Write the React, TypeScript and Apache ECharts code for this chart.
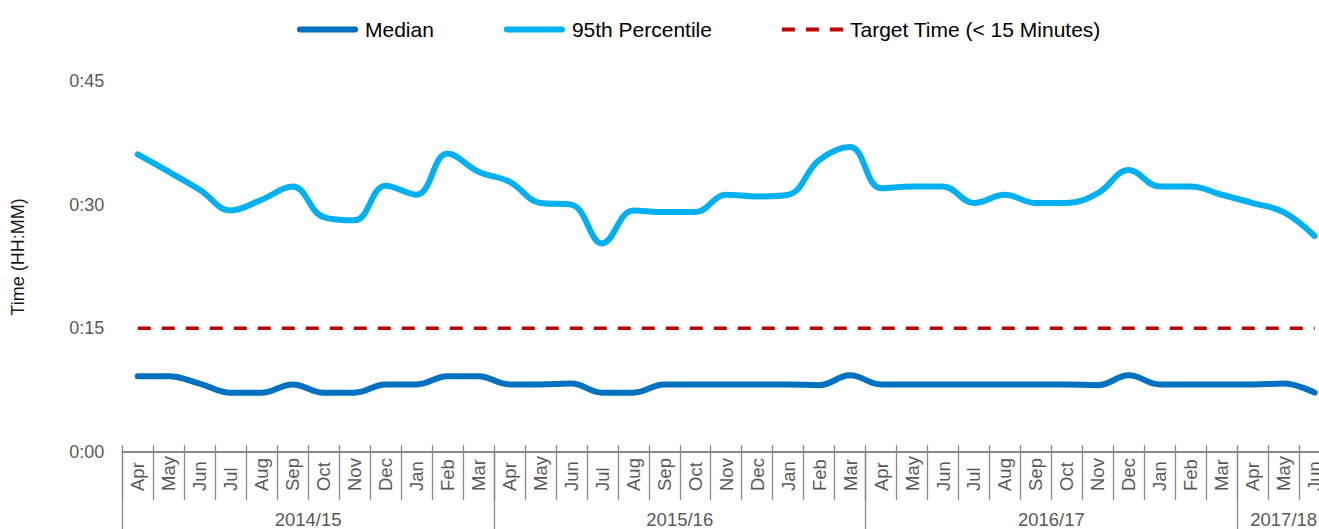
import { useEffect, useRef } from "react";
import * as echarts from "echarts";

const monthNames = ["Apr", "May", "Jun", "Jul", "Aug", "Sep", "Oct", "Nov", "Dec", "Jan", "Feb", "Mar"];
const fiscalYears = ["2014/15", "2015/16", "2016/17", "2017/18"];
const fiscalYearMonthCounts = [12, 12, 12, 3];

// minutes
const median = [
  9.2, 9.2, 8.3, 7.2, 7.2, 8.2, 7.2, 7.2, 8.2, 8.2, 9.2, 9.2,
  8.2, 8.2, 8.3, 7.2, 7.2, 8.2, 8.2, 8.2, 8.2, 8.2, 8.1, 9.3,
  8.2, 8.2, 8.2, 8.2, 8.2, 8.2, 8.2, 8.1, 9.3, 8.2, 8.2, 8.2,
  8.2, 8.3, 7.2,
];
const percentile95 = [
  36.1, 34.0, 31.8, 29.3, 30.6, 32.2, 28.5, 28.1, 32.3, 31.2, 36.2, 34.0,
  32.8, 30.2, 30.0, 25.3, 29.3, 29.1, 29.1, 31.2, 31.0, 31.2, 35.4, 37.0,
  32.0, 32.2, 32.2, 30.2, 31.2, 30.2, 30.2, 31.4, 34.2, 32.2, 32.2, 31.2,
  30.2, 29.1, 26.2,
];
const targetMinutes = 15;
const yTickMinutes = [0, 15, 30, 45];

const seriesNames = ["Median", "95th Percentile", "Target Time (< 15 Minutes)"];

const FONT = "'Liberation Sans', Arial, Helvetica, sans-serif";

const PILL_ICON = "path://M3,0H58A3,3 0 0 1 58,6H3A3,3 0 0 1 3,0Z";
const DASH_ICON = "path://M0,1H13V5H0Z M24,1H37V5H24Z M48,1H61V5H48Z M0,0H0.01V6H0Z";

export default function App() {
  const ref = useRef<HTMLDivElement>(null);

  useEffect(() => {
    if (!ref.current) return;
    const chart = echarts.init(ref.current, null, { renderer: "svg" });

    const categories: string[] = [];
    fiscalYears.forEach((fy, i) => {
      monthNames.slice(0, fiscalYearMonthCounts[i]).forEach((m) => categories.push(fy + "|" + m));
    });
    const total = categories.length;
    const boundaries: number[] = [];
    const centers: number[] = [];
    let acc = 0;
    fiscalYearMonthCounts.forEach((c) => {
      boundaries.push(acc);
      centers.push(acc + c / 2);
      acc += c;
    });

    const catWidth = 30.97;
    const gridLeft = 122.3;
    const gridTop = 81;
    const gridHeight = 371;

    const axisColor = "#898989";
    const labelColor = "#595959";

    chart.setOption({
      animation: false,
      textStyle: { fontFamily: FONT },
      legend: {
        left: 292,
        top: 14,
        itemWidth: 61,
        itemHeight: 6,
        itemGap: 70,
        itemStyle: { borderWidth: 0 },
        data: [
          { name: seriesNames[0], icon: PILL_ICON },
          { name: seriesNames[1], icon: PILL_ICON },
          { name: seriesNames[2], icon: DASH_ICON },
        ],
        textStyle: { fontSize: 21, color: "#000", fontFamily: FONT, padding: [0, 0, 0, 2] },
      },
      grid: {
        left: gridLeft,
        top: gridTop,
        width: catWidth * total,
        height: gridHeight,
        containLabel: false,
        outerBoundsMode: "none",
      },
      xAxis: [
        {
          type: "category",
          data: categories,
          boundaryGap: true,
          position: "bottom",
          axisLine: { show: true, lineStyle: { color: axisColor, width: 2 } },
          axisTick: { show: true, interval: 0, length: 48, lineStyle: { color: axisColor, width: 1.3 } },
          axisLabel: {
            interval: 0,
            rotate: 90,
            align: "left",
            verticalAlign: "middle",
            margin: 39,
            fontSize: 18.5,
            color: labelColor,
            fontFamily: FONT,
            formatter: (v: string) => v.split("|")[1],
          },
          splitLine: { show: false },
        },
        {
          type: "category",
          data: categories,
          boundaryGap: true,
          position: "bottom",
          axisLine: { show: false },
          axisTick: { show: true, inside: true, interval: 0, length: 7, lineStyle: { color: axisColor, width: 1.3 } },
          axisLabel: { show: false },
          splitLine: { show: false },
        },
        {
          type: "value",
          min: 0,
          max: total,
          position: "bottom",
          axisLine: { show: false },
          axisTick: {
            show: true,
            customValues: boundaries,
            length: 80,
            lineStyle: { color: axisColor, width: 1.3 },
          },
          axisLabel: {
            show: true,
            customValues: centers,
            margin: 58,
            fontSize: 18.5,
            lineHeight: 18,
            color: labelColor,
            fontFamily: FONT,
            formatter: (v: number) => {
              const idx = centers.indexOf(v);
              return idx >= 0 ? fiscalYears[idx] : "";
            },
          },
          splitLine: { show: false },
        },
      ],
      yAxis: {
        type: "value",
        min: 0,
        max: 45,
        interval: 15,
        name: "Time (HH:MM)",
        nameLocation: "middle",
        nameGap: 95,
        nameTextStyle: { fontSize: 18, color: "#1a1a1a", fontFamily: FONT, padding: [0, 0, 0, 19] },
        axisLine: { show: false },
        axisTick: { show: false },
        splitLine: { show: false },
        axisLabel: {
          fontSize: 18,
          color: labelColor,
          margin: 18,
          fontFamily: FONT,
          customValues: yTickMinutes,
          formatter: (v: number) => "0:" + String(v).padStart(2, "0"),
        },
      },
      series: [
        {
          name: seriesNames[0],
          type: "line",
          data: median,
          smooth: 0.4,
          symbol: "none",
          color: "#0070C0",
          itemStyle: { color: "#0070C0", borderWidth: 0 },
          lineStyle: { width: 6, color: "#0070C0", cap: "round", join: "round" },
          z: 3,
        },
        {
          name: seriesNames[1],
          type: "line",
          data: percentile95,
          smooth: 0.4,
          symbol: "none",
          color: "#00B0F0",
          itemStyle: { color: "#00B0F0", borderWidth: 0 },
          lineStyle: { width: 6, color: "#00B0F0", cap: "round", join: "round" },
          z: 3,
        },
        {
          name: seriesNames[2],
          type: "line",
          data: categories.map(() => targetMinutes),
          symbol: "none",
          color: "#C00000",
          itemStyle: { color: "#C00000", borderWidth: 0 },
          lineStyle: { width: 3.5, color: "#C00000", type: [13, 11] },
          z: 2,
        },
      ],
    });

    return () => chart.dispose();
  }, []);

  return (
    <div
      ref={ref}
      style={{ position: "absolute", left: 0, top: 0, width: 1319, height: 529 }}
    />
  );
}
